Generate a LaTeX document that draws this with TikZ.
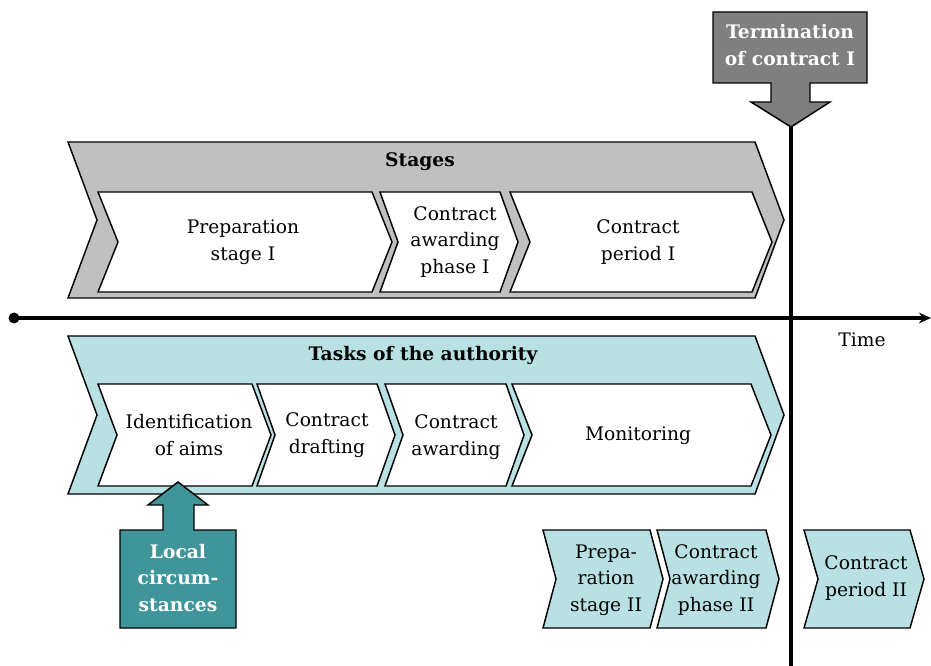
\documentclass[tikz,border=0pt]{standalone}
\usepackage{fontspec}
\setmainfont{DejaVu Serif}
\usetikzlibrary{arrows.meta}
\definecolor{stagegray}{HTML}{C0C0C0}
\definecolor{termgray}{HTML}{7F7F7F}
\definecolor{lightteal}{HTML}{B9E1E3}
\definecolor{darkteal}{HTML}{3F9599}

% chevron: style, left x, right x, top y, bottom y, tip depth
\newcommand\chevron[6]{%
  \filldraw[#1] (#2,#4) -- (#3,#4) -- ({#3+#6},{(#4+#5)/2}) -- (#3,#5)
    -- (#2,#5) -- ({#2+#6},{(#4+#5)/2}) -- cycle;}

\begin{document}
\begin{tikzpicture}[x=0.75pt,y=-0.75pt,
  shape line/.style={draw=black,line width=1.1pt,line join=miter},
  outer gray/.style={shape line,fill=stagegray},
  outer teal/.style={shape line,fill=lightteal},
  inner white/.style={shape line,fill=white},
  txt/.style={align=center,inner sep=0pt,font=\fontsize{14}{20}\selectfont},
  title/.style={align=center,inner sep=0pt,font=\fontsize{14}{20}\selectfont\bfseries},
  wtitle/.style={title,text=white},
  axis/.style={line width=3pt,draw=black}]
\useasboundingbox (0,0) rectangle (931,666);

% stages band
\chevron{outer gray}{68}{755}{142}{298}{29}
\node[title] (stages) at (420,162) {Stages};
\chevron{inner white}{98}{372}{192}{292}{20}
\chevron{inner white}{380}{500}{192}{292}{18}
\chevron{inner white}{510}{752}{192}{292}{20}
\node[txt] (prep1) at (243,242) {Preparation\\stage I};
\node[txt] (award1) at (455,242) {Contract\\awarding\\phase I};
\node[txt] (period1) at (638,242) {Contract\\period I};

% tasks band
\chevron{outer teal}{68}{755}{336}{494}{29}
\node[title] (tasks) at (423,355) {Tasks of the authority};
\chevron{inner white}{98}{252}{384}{486}{19}
\chevron{inner white}{257}{377}{384}{486}{18}
\chevron{inner white}{385}{506}{384}{486}{18}
\chevron{inner white}{512}{751}{384}{486}{20}
\node[txt] (aims) at (189,435) {Identification\\of aims};
\node[txt] (drafting) at (327,435) {Contract\\drafting};
\node[txt] (awarding) at (456,437) {Contract\\awarding};
\node[txt] (monitor) at (638,436) {Monitoring};

% second cycle
\chevron{outer teal}{543}{650}{530}{628}{13}
\chevron{outer teal}{657}{766}{530}{628}{13}
\chevron{outer teal}{804}{910}{530}{628}{14}
\node[txt] (prep2) at (606,580) {Prepa-\\ration\\stage II};
\node[txt] (award2) at (716,580) {Contract\\awarding\\phase II};
\node[txt] (period2) at (866,578) {Contract\\period II};

% time axis
\coordinate (t0) at (14,318);
\coordinate (t1) at (931,318);
\coordinate (v0) at (791,124);
\coordinate (v1) at (791,666);
\draw[axis,-{Stealth[length=9pt,width=8pt]}] (t0) -- (t1);
\fill (t0) circle (5.5);
\draw[axis] (v0) -- (v1);
\node[font=\fontsize{14}{20}\selectfont,inner sep=0pt] (time) at (862,340) {Time};

% termination callout
\filldraw[shape line,fill=termgray] (713,12) -- (867,12) -- (867,83) -- (810,83)
  -- (810,102) -- (830,102) -- (791,127) -- (751,102) -- (771,102) -- (771,83)
  -- (713,83) -- cycle;
\node[wtitle] (term) at (790,45) {Termination\\of contract I};

% local circumstances callout
\filldraw[shape line,fill=darkteal] (120,530) -- (163,530) -- (163,505) -- (148,505)
  -- (178,482) -- (208,505) -- (194,505) -- (194,530) -- (236,530) -- (236,628)
  -- (120,628) -- cycle;
\node[wtitle] (local) at (178,578) {Local\\circum-\\stances};
\end{tikzpicture}
\end{document}
